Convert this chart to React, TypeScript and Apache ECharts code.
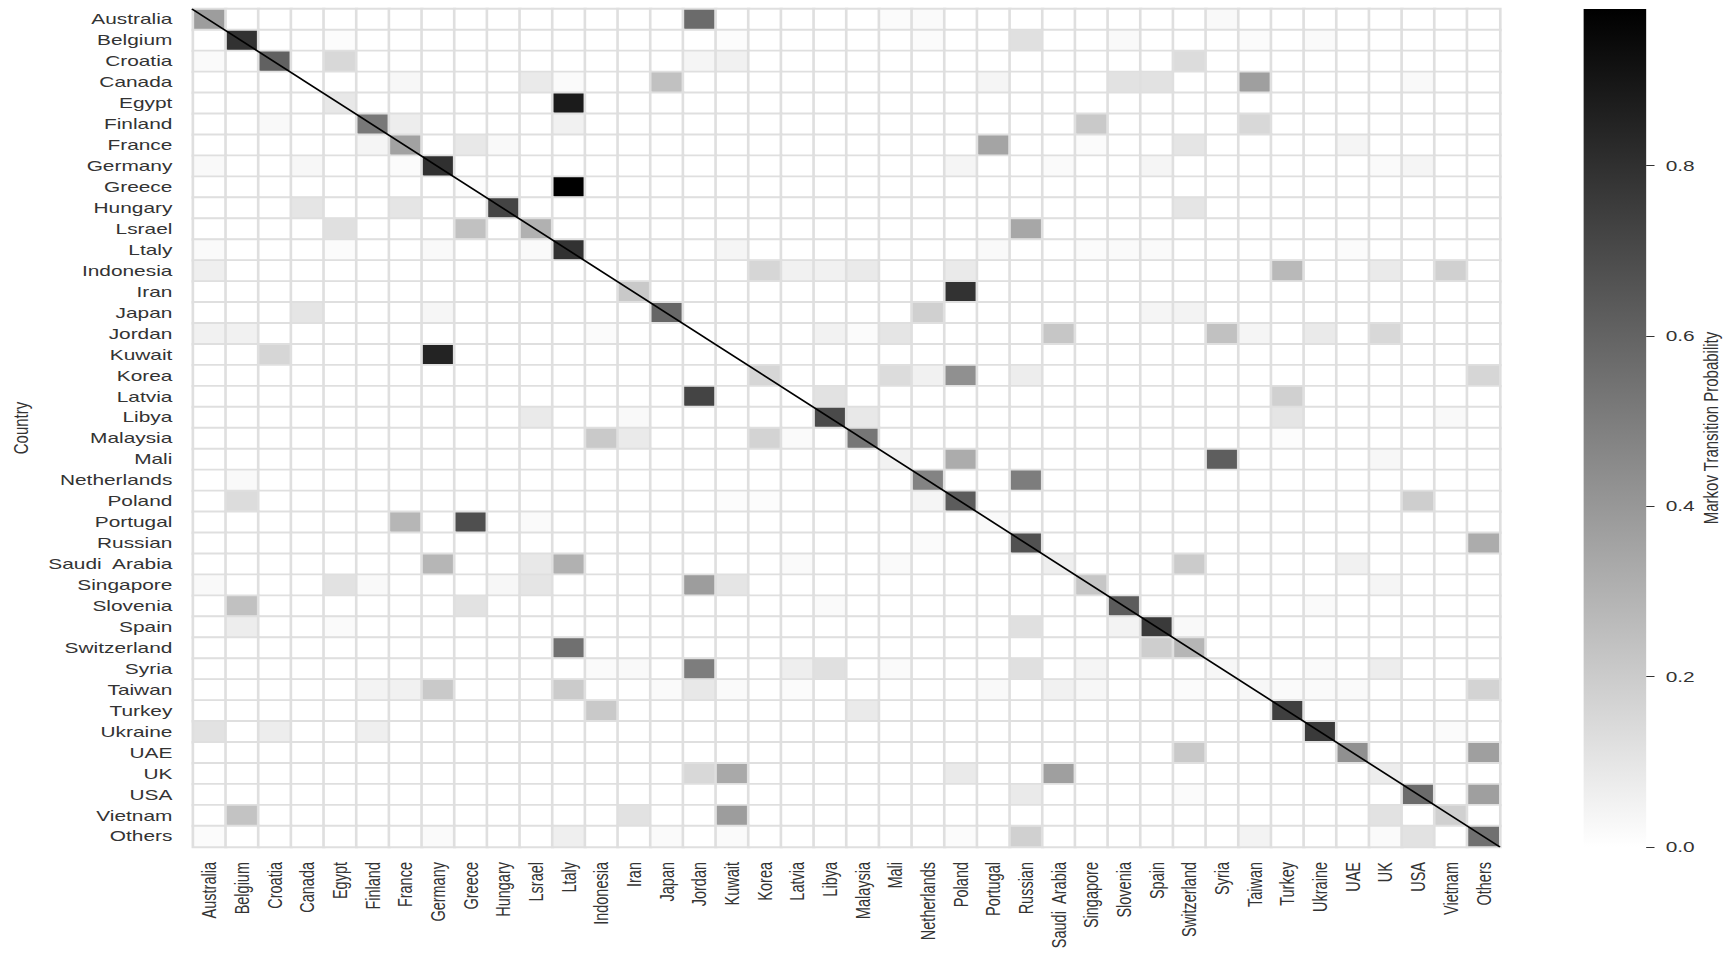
import React, { useEffect, useRef } from "react";
import * as echarts from "echarts";

// Origin / destination countries (same order on both axes)
const countries: string[] = [
  "Australia", "Belgium", "Croatia", "Canada", "Egypt", "Finland", "France",
  "Germany", "Greece", "Hungary", "Lsrael", "Ltaly", "Indonesia", "Iran",
  "Japan", "Jordan", "Kuwait", "Korea", "Latvia", "Libya", "Malaysia", "Mali",
  "Netherlands", "Poland", "Portugal", "Russian", "Saudi  Arabia", "Singapore",
  "Slovenia", "Spain", "Switzerland", "Syria", "Taiwan", "Turkey", "Ukraine",
  "UAE", "UK", "USA", "Vietnam", "Others",
];

// Non-zero Markov transition probabilities: [from (row), to (column), p]
const transitions: [string, string, number][] = [
  ["Australia", "Australia", 0.38], ["Australia", "Jordan", 0.57], ["Australia", "Mali", 0.015], ["Australia", "Netherlands", 0.02], ["Australia", "Syria", 0.025],
  ["Belgium", "Belgium", 0.79], ["Belgium", "Egypt", 0.01], ["Belgium", "Kuwait", 0.01], ["Belgium", "Netherlands", 0.015], ["Belgium", "Russian", 0.12], ["Belgium", "Slovenia", 0.025], ["Belgium", "Taiwan", 0.015], ["Belgium", "Ukraine", 0.02],
  ["Croatia", "Australia", 0.02], ["Croatia", "Croatia", 0.61], ["Croatia", "Egypt", 0.15], ["Croatia", "Jordan", 0.04], ["Croatia", "Kuwait", 0.055], ["Croatia", "Switzerland", 0.135],
  ["Canada", "France", 0.03], ["Canada", "Lsrael", 0.08], ["Canada", "Ltaly", 0.02], ["Canada", "Japan", 0.24], ["Canada", "Portugal", 0.04], ["Canada", "Slovenia", 0.11], ["Canada", "Spain", 0.11], ["Canada", "Taiwan", 0.37], ["Canada", "USA", 0.025],
  ["Egypt", "Egypt", 0.09], ["Egypt", "Ltaly", 0.88],
  ["Finland", "Croatia", 0.025], ["Finland", "Finland", 0.52], ["Finland", "France", 0.07], ["Finland", "Ltaly", 0.055], ["Finland", "Singapore", 0.21], ["Finland", "Taiwan", 0.15],
  ["France", "Finland", 0.04], ["France", "France", 0.36], ["France", "Greece", 0.09], ["France", "Hungary", 0.025], ["France", "Portugal", 0.35], ["France", "Singapore", 0.015], ["France", "Switzerland", 0.1], ["France", "UAE", 0.04],
  ["Germany", "Australia", 0.025], ["Germany", "Canada", 0.03], ["Germany", "France", 0.015], ["Germany", "Germany", 0.8], ["Germany", "Poland", 0.04], ["Germany", "Saudi  Arabia", 0.02], ["Germany", "Spain", 0.04], ["Germany", "UK", 0.02], ["Germany", "USA", 0.04],
  ["Greece", "Greece", 0.01], ["Greece", "Ltaly", 0.984],
  ["Hungary", "Canada", 0.1], ["Hungary", "France", 0.1], ["Hungary", "Hungary", 0.72], ["Hungary", "Switzerland", 0.1],
  ["Lsrael", "Egypt", 0.12], ["Lsrael", "Greece", 0.24], ["Lsrael", "Lsrael", 0.3], ["Lsrael", "Russian", 0.34],
  ["Ltaly", "Australia", 0.02], ["Ltaly", "Egypt", 0.015], ["Ltaly", "Germany", 0.025], ["Ltaly", "Lsrael", 0.02], ["Ltaly", "Ltaly", 0.79], ["Ltaly", "Kuwait", 0.04], ["Ltaly", "Portugal", 0.025], ["Ltaly", "Singapore", 0.015], ["Ltaly", "Slovenia", 0.02], ["Ltaly", "Spain", 0.02], ["Ltaly", "UAE", 0.015],
  ["Indonesia", "Australia", 0.06], ["Indonesia", "Korea", 0.16], ["Indonesia", "Latvia", 0.055], ["Indonesia", "Libya", 0.055], ["Indonesia", "Malaysia", 0.08], ["Indonesia", "Poland", 0.08], ["Indonesia", "Turkey", 0.27], ["Indonesia", "UK", 0.08], ["Indonesia", "Vietnam", 0.18],
  ["Iran", "Iran", 0.21], ["Iran", "Poland", 0.79],
  ["Japan", "Canada", 0.1], ["Japan", "Germany", 0.035], ["Japan", "Japan", 0.59], ["Japan", "Netherlands", 0.18], ["Japan", "Spain", 0.04], ["Japan", "Switzerland", 0.045],
  ["Jordan", "Australia", 0.055], ["Jordan", "Belgium", 0.055], ["Jordan", "Indonesia", 0.015], ["Jordan", "Libya", 0.05], ["Jordan", "Malaysia", 0.015], ["Jordan", "Mali", 0.1], ["Jordan", "Saudi  Arabia", 0.22], ["Jordan", "Syria", 0.24], ["Jordan", "Taiwan", 0.04], ["Jordan", "Ukraine", 0.08], ["Jordan", "UK", 0.15],
  ["Kuwait", "Croatia", 0.16], ["Kuwait", "Germany", 0.85],
  ["Korea", "Korea", 0.16], ["Korea", "Mali", 0.135], ["Korea", "Netherlands", 0.055], ["Korea", "Poland", 0.43], ["Korea", "Russian", 0.07], ["Korea", "Others", 0.16],
  ["Latvia", "Jordan", 0.72], ["Latvia", "Libya", 0.11], ["Latvia", "Turkey", 0.18],
  ["Libya", "Lsrael", 0.08], ["Libya", "Iran", 0.025], ["Libya", "Libya", 0.7], ["Libya", "Malaysia", 0.09], ["Libya", "Turkey", 0.1], ["Libya", "Vietnam", 0.025],
  ["Malaysia", "Indonesia", 0.21], ["Malaysia", "Iran", 0.08], ["Malaysia", "Korea", 0.17], ["Malaysia", "Latvia", 0.02], ["Malaysia", "Malaysia", 0.53], ["Malaysia", "Turkey", 0.01],
  ["Mali", "Mali", 0.05], ["Mali", "Poland", 0.32], ["Mali", "Syria", 0.62], ["Mali", "UK", 0.03],
  ["Netherlands", "Belgium", 0.025], ["Netherlands", "Netherlands", 0.48], ["Netherlands", "Russian", 0.5],
  ["Poland", "Belgium", 0.135], ["Poland", "Kuwait", 0.01], ["Poland", "Korea", 0.01], ["Poland", "Netherlands", 0.04], ["Poland", "Poland", 0.63], ["Poland", "USA", 0.19],
  ["Portugal", "France", 0.28], ["Portugal", "Greece", 0.68], ["Portugal", "Lsrael", 0.02], ["Portugal", "Portugal", 0.025],
  ["Russian", "Netherlands", 0.015], ["Russian", "Russian", 0.67], ["Russian", "Others", 0.32],
  ["Saudi  Arabia", "Germany", 0.28], ["Saudi  Arabia", "Lsrael", 0.09], ["Saudi  Arabia", "Ltaly", 0.3], ["Saudi  Arabia", "Latvia", 0.02], ["Saudi  Arabia", "Mali", 0.02], ["Saudi  Arabia", "Saudi  Arabia", 0.06], ["Saudi  Arabia", "Switzerland", 0.2], ["Saudi  Arabia", "UAE", 0.055],
  ["Singapore", "Australia", 0.025], ["Singapore", "Egypt", 0.11], ["Singapore", "Finland", 0.025], ["Singapore", "Hungary", 0.03], ["Singapore", "Lsrael", 0.1], ["Singapore", "Jordan", 0.38], ["Singapore", "Kuwait", 0.1], ["Singapore", "Singapore", 0.22], ["Singapore", "UK", 0.04],
  ["Slovenia", "Belgium", 0.24], ["Slovenia", "Greece", 0.11], ["Slovenia", "Libya", 0.02], ["Slovenia", "Slovenia", 0.63], ["Slovenia", "Ukraine", 0.02],
  ["Spain", "Belgium", 0.07], ["Spain", "Egypt", 0.02], ["Spain", "Russian", 0.12], ["Spain", "Slovenia", 0.045], ["Spain", "Spain", 0.76], ["Spain", "Switzerland", 0.025],
  ["Switzerland", "Ltaly", 0.55], ["Switzerland", "Spain", 0.19], ["Switzerland", "Switzerland", 0.28],
  ["Syria", "Indonesia", 0.02], ["Syria", "Iran", 0.025], ["Syria", "Jordan", 0.5], ["Syria", "Latvia", 0.065], ["Syria", "Libya", 0.12], ["Syria", "Mali", 0.02], ["Syria", "Russian", 0.12], ["Syria", "Singapore", 0.04], ["Syria", "Syria", 0.03], ["Syria", "Ukraine", 0.02], ["Syria", "UK", 0.07],
  ["Taiwan", "Finland", 0.045], ["Taiwan", "France", 0.055], ["Taiwan", "Germany", 0.21], ["Taiwan", "Ltaly", 0.2], ["Taiwan", "Japan", 0.02], ["Taiwan", "Jordan", 0.09], ["Taiwan", "Kuwait", 0.02], ["Taiwan", "Latvia", 0.015], ["Taiwan", "Portugal", 0.025], ["Taiwan", "Saudi  Arabia", 0.055], ["Taiwan", "Singapore", 0.03], ["Taiwan", "Switzerland", 0.015], ["Taiwan", "Taiwan", 0.03], ["Taiwan", "Turkey", 0.02], ["Taiwan", "Ukraine", 0.02], ["Taiwan", "UAE", 0.02], ["Taiwan", "Others", 0.17],
  ["Turkey", "Indonesia", 0.21], ["Turkey", "Malaysia", 0.08], ["Turkey", "Turkey", 0.74],
  ["Ukraine", "Australia", 0.11], ["Ukraine", "Croatia", 0.07], ["Ukraine", "Finland", 0.06], ["Ukraine", "Ukraine", 0.76], ["Ukraine", "Vietnam", 0.015],
  ["UAE", "Switzerland", 0.21], ["UAE", "UAE", 0.43], ["UAE", "Others", 0.37],
  ["UK", "Jordan", 0.15], ["UK", "Kuwait", 0.33], ["UK", "Poland", 0.08], ["UK", "Saudi  Arabia", 0.37], ["UK", "UK", 0.07],
  ["USA", "Russian", 0.08], ["USA", "Switzerland", 0.015], ["USA", "USA", 0.57], ["USA", "Others", 0.37],
  ["Vietnam", "Belgium", 0.23], ["Vietnam", "Iran", 0.11], ["Vietnam", "Kuwait", 0.38], ["Vietnam", "UK", 0.11], ["Vietnam", "Vietnam", 0.18],
  ["Others", "Australia", 0.015], ["Others", "Germany", 0.02], ["Others", "Ltaly", 0.06], ["Others", "Japan", 0.02], ["Others", "Kuwait", 0.02], ["Others", "Poland", 0.015], ["Others", "Russian", 0.18], ["Others", "Taiwan", 0.045], ["Others", "UK", 0.02], ["Others", "USA", 0.11], ["Others", "Others", 0.55],
];

// Colour bar range and ticks
const colorMin = 0;
const colorMax = 0.984;
const colorTicks = [0, 0.2, 0.4, 0.6, 0.8];

// The figure is drawn narrow and stretched horizontally to fill the page
const STRETCH = 1.39;
const PAGE_W = 1735;
const PAGE_H = 957;
const CHART_W = PAGE_W / STRETCH;

const FONT = "Liberation Sans";
const TEXT = "#333333";

export default function App() {
  const ref = useRef<HTMLDivElement>(null);

  useEffect(() => {
    if (!ref.current) return;
    const chart = echarts.init(ref.current, null, { renderer: "svg" });

    const idx = new Map(countries.map((c, i) => [c, i] as [string, number]));
    const matrix = countries.map(() => countries.map(() => 0));
    for (const [from, to, p] of transitions) {
      matrix[idx.get(from)!][idx.get(to)!] = p;
    }
    const heatData: [number, number, number][] = [];
    matrix.forEach((row, r) => row.forEach((v, c) => heatData.push([c, r, v])));

    const heatGrid = { left: 138.1, top: 9, width: 941, height: 838 };
    const n = countries.length;

    chart.setOption({
      animation: false,
      backgroundColor: "#ffffff",
      textStyle: { fontFamily: FONT },
      grid: [
        { ...heatGrid },
        { left: 1139.3, top: 9, width: 45, height: 838 },
        { ...heatGrid },
      ],
      xAxis: [
        {
          type: "category",
          gridIndex: 0,
          data: countries,
          position: "bottom",
          axisLine: { show: false },
          axisTick: { show: false },
          splitLine: { show: false },
          axisLabel: {
            interval: 0,
            rotate: 90,
            margin: 15,
            fontSize: 14.5,
            color: TEXT,
            fontFamily: FONT,
          },
        },
        { type: "category", gridIndex: 1, data: [""], show: false },
        { type: "value", gridIndex: 2, min: 0, max: n, show: false },
      ],
      yAxis: [
        {
          type: "category",
          gridIndex: 0,
          data: countries,
          inverse: true,
          axisLine: { show: false },
          axisTick: { show: false },
          splitLine: { show: false },
          axisLabel: {
            interval: 0,
            margin: 15,
            fontSize: 15,
            color: TEXT,
            fontFamily: FONT,
          },
          name: "Country",
          nameLocation: "middle",
          nameRotate: 90,
          nameGap: 116,
          nameTextStyle: { fontSize: 15, color: TEXT, fontFamily: FONT },
        },
        {
          type: "value",
          gridIndex: 1,
          position: "right",
          min: colorMin,
          max: colorMax,
          axisLine: { show: false },
          splitLine: { show: false },
          axisTick: {
            show: true,
            length: 6,
            customValues: colorTicks,
            lineStyle: { color: TEXT, width: 1 },
          },
          axisLabel: {
            customValues: colorTicks,
            margin: 14,
            fontSize: 15,
            color: TEXT,
            fontFamily: FONT,
            formatter: (v: number) => v.toFixed(1),
          },
          name: "Markov Transition Probability",
          nameLocation: "middle",
          nameRotate: 90,
          nameGap: 39,
          nameTextStyle: { fontSize: 15, color: TEXT, fontFamily: FONT },
        },
        { type: "value", gridIndex: 2, min: 0, max: n, inverse: true, show: false },
      ],
      visualMap: {
        show: false,
        type: "continuous",
        seriesIndex: 0,
        dimension: 2,
        min: colorMin,
        max: colorMax,
        inRange: { color: ["#ffffff", "#000000"] },
      },
      series: [
        {
          type: "heatmap",
          xAxisIndex: 0,
          yAxisIndex: 0,
          data: heatData,
          itemStyle: { borderColor: "#dfdfdf", borderWidth: 1.9 },
          emphasis: { disabled: true },
          silent: true,
        },
        {
          type: "bar",
          xAxisIndex: 1,
          yAxisIndex: 1,
          data: [colorMax],
          barWidth: "100%",
          silent: true,
          itemStyle: {
            color: new echarts.graphic.LinearGradient(0, 0, 0, 1, [
              { offset: 0, color: "#000000" },
              { offset: 1, color: "#ffffff" },
            ]),
          },
        },
        {
          type: "line",
          xAxisIndex: 2,
          yAxisIndex: 2,
          data: [
            [0, 0],
            [n, n],
          ],
          symbol: "none",
          clip: false,
          silent: true,
          z: 10,
          lineStyle: { color: "#000000", width: 1.5 },
        },
      ],
    });

    return () => chart.dispose();
  }, []);

  return (
    <div
      ref={ref}
      style={{
        position: "fixed",
        left: 0,
        top: 0,
        width: CHART_W,
        height: PAGE_H,
        transform: `scaleX(${STRETCH})`,
        transformOrigin: "0 0",
        background: "#ffffff",
      }}
    />
  );
}
